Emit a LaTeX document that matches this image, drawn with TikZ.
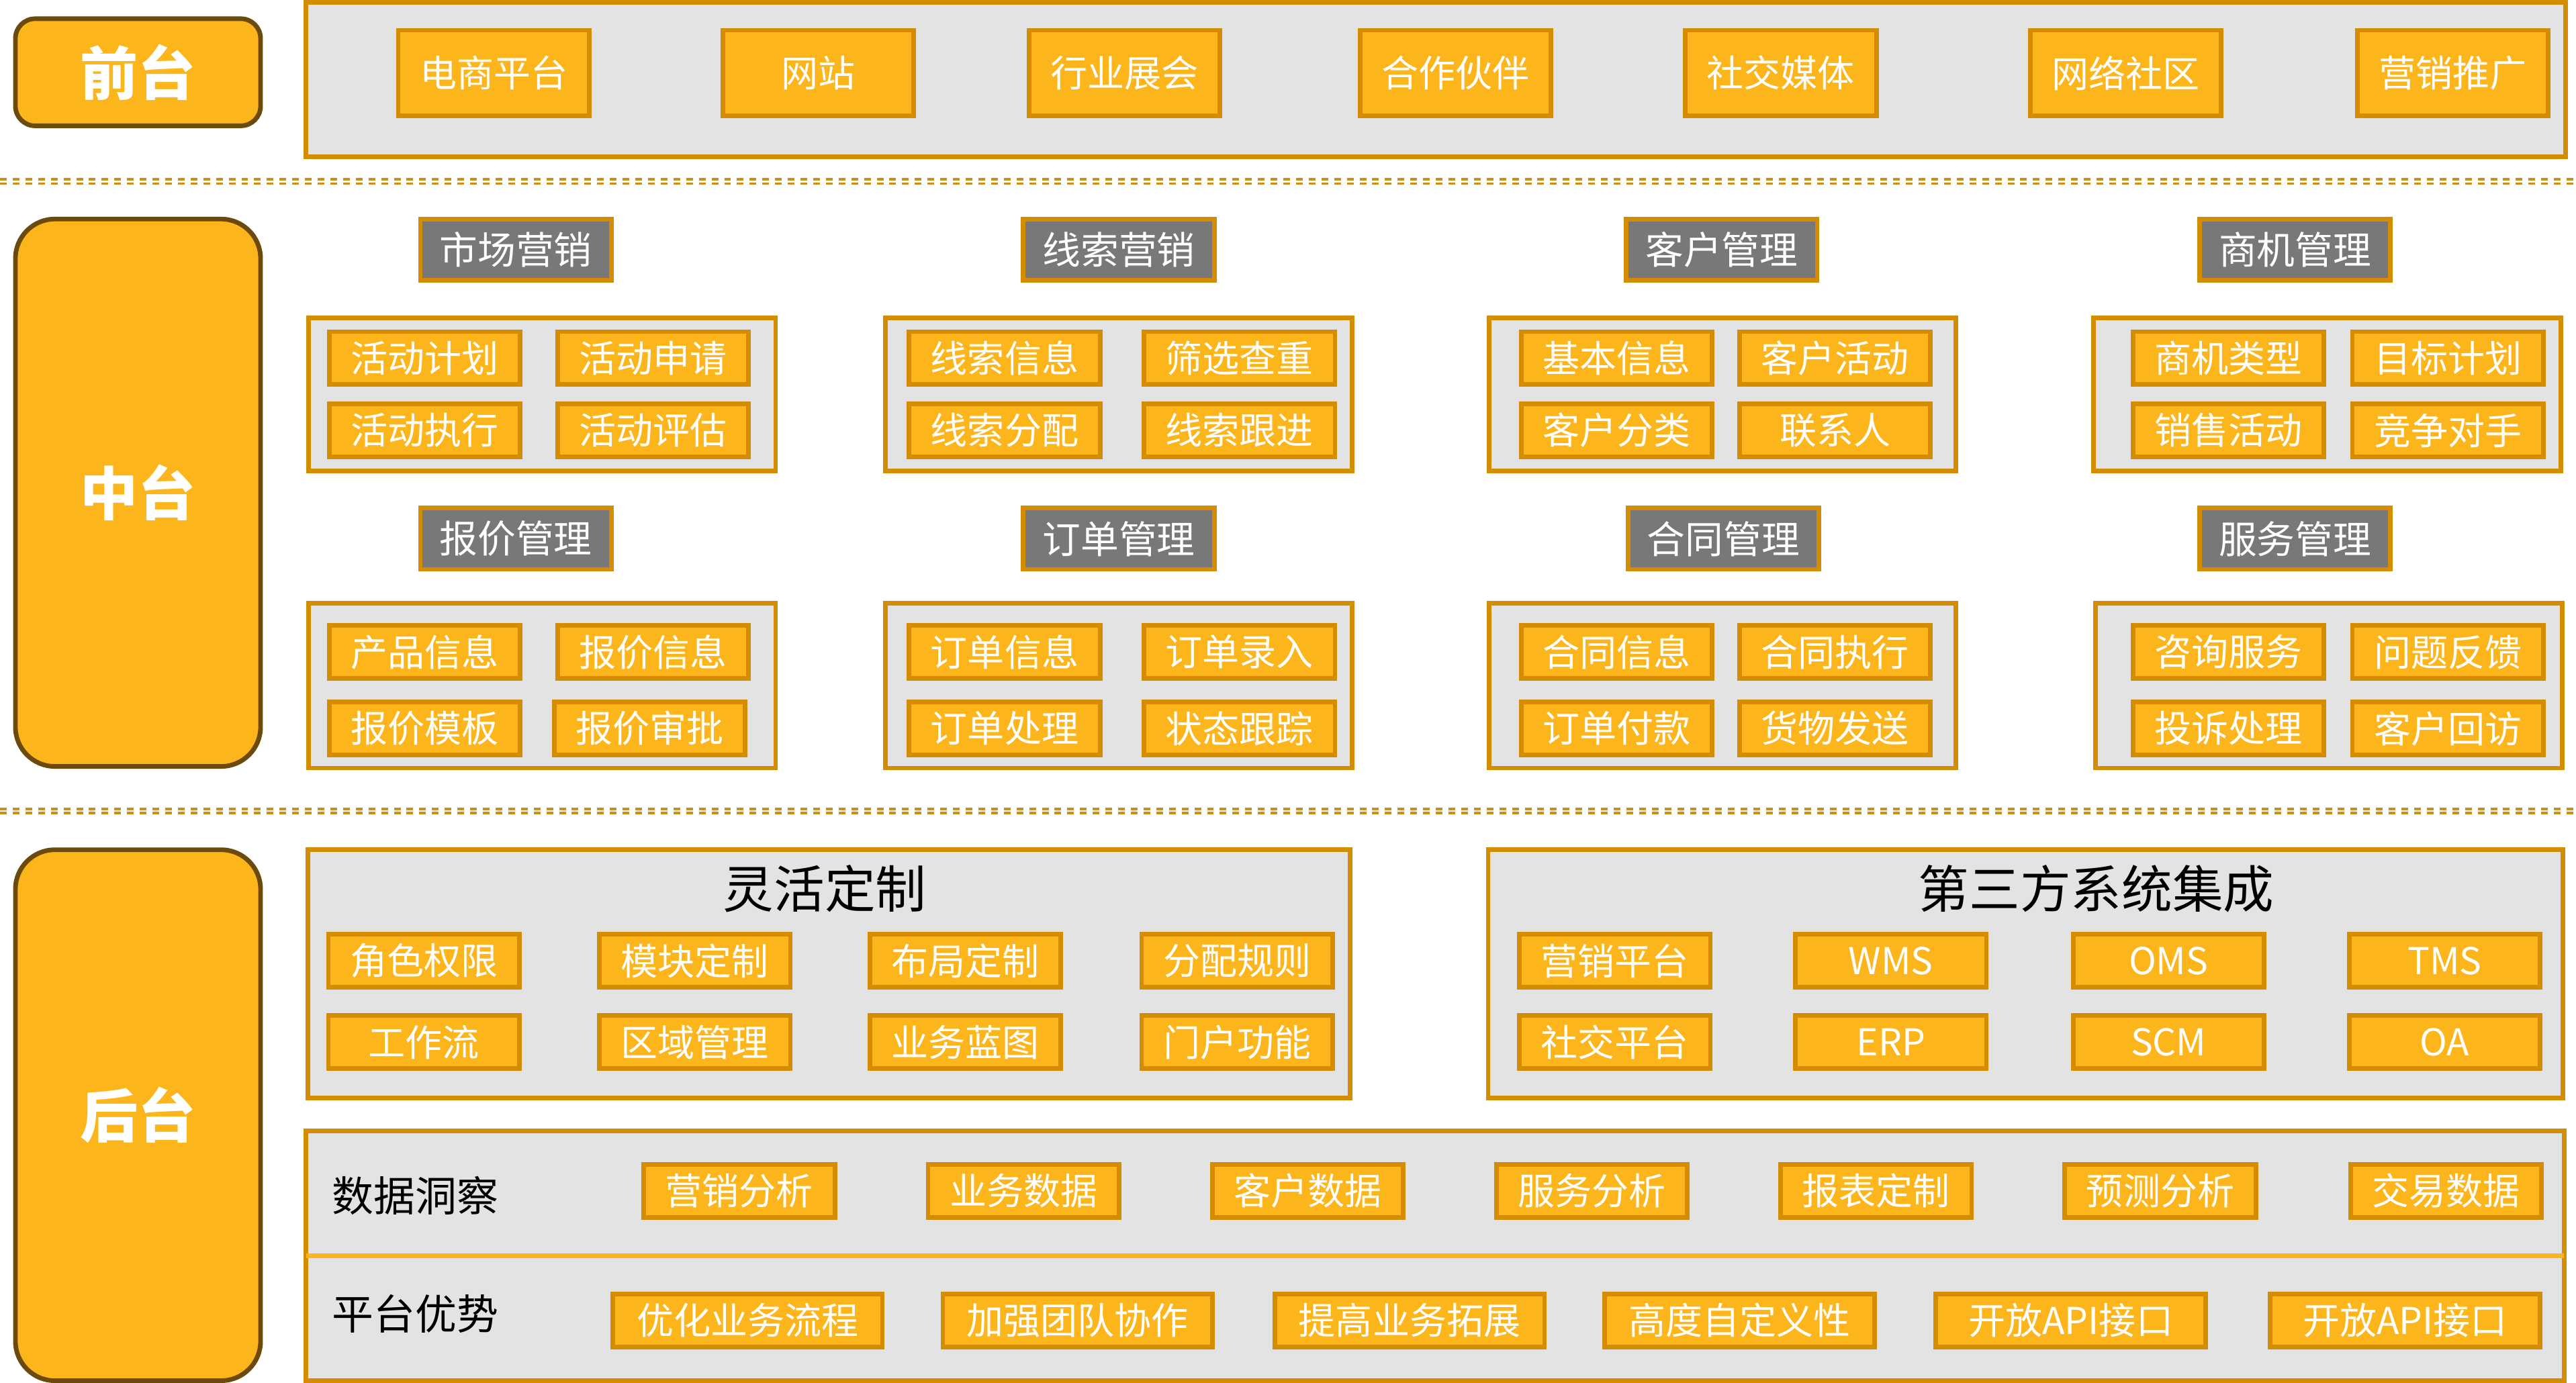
\documentclass[tikz,border=0pt]{standalone}
\usepackage{fontspec}
\setmainfont{Noto Sans CJK SC}
\usetikzlibrary{positioning}
\definecolor{tierfill}{RGB}{253,181,28}
\definecolor{tierline}{RGB}{107,74,11}
\definecolor{itemline}{RGB}{212,141,0}
\definecolor{panelgray}{RGB}{227,227,227}
\definecolor{headgray}{RGB}{120,120,120}
\definecolor{sepcolor}{RGB}{201,142,30}

\begin{document}
\begin{tikzpicture}[
    x=0.025cm, y=-0.025cm,
    tier/.style={rectangle, draw=tierline, fill=tierfill, line width=2pt, minimum width=3.8cm-2pt, text=white, font=\fontsize{25pt}{28pt}\selectfont\bfseries},
    panel/.style={rectangle, draw=itemline, fill=panelgray, line width=2pt, inner sep=0pt},
    grp/.style={panel, minimum width=7.175cm-2pt},
    item/.style={rectangle, draw=itemline, fill=tierfill, line width=2pt, minimum width=2.975cm-2pt, minimum height=0.875cm-2pt, inner sep=0pt, text=white, font=\fontsize{16pt}{18pt}\selectfont},
    frontitem/.style={item, minimum height=1.375cm-2pt},
    wideitem/.style={item, minimum width=4.175cm-2pt},
    head/.style={item, fill=headgray, minimum height=1cm-2pt, font=\fontsize{16.5pt}{18pt}\selectfont},
    title/.style={inner sep=0pt, font=\fontsize{22pt}{26pt}\selectfont},
    rowlabel/.style={anchor=west, inner sep=0pt, font=\fontsize{18pt}{20pt}\selectfont},
    sepline/.style={draw=sepcolor, line width=1.1pt, dash pattern=on 2.9pt off 2.6pt}
]
\useasboundingbox (0,0) rectangle (1568,842);

% Front tier
\node[tier, rounded corners=0.3cm, minimum height=1.7cm-2pt] (front) at (84,44) {前台};
\node[panel, minimum width=34.45cm-2pt, minimum height=2.425cm-2pt] (frontpanel) at (874,48.5) {};
\node[frontitem] (fe1) at (300.5,44.5) {电商平台};
\node[frontitem] (fe2) at (498,44.5) {网站};
\node[frontitem] (fe3) at (684.5,44.5) {行业展会};
\node[frontitem] (fe4) at (886,44.5) {合作伙伴};
\node[frontitem] (fe5) at (1084,44.5) {社交媒体};
\node[frontitem] (fe6) at (1294,44.5) {网络社区};
\node[frontitem] (fe7) at (1493,44.5) {营销推广};

\draw[sepline] (0,109.2) -- (1568,109.2);
\draw[sepline] (0,111.8) -- (1568,111.8);

% Middle tier
\node[tier, rounded corners=0.6cm, minimum height=8.4cm-2pt] (middle) at (84,300) {中台};

% row 1
\node[head] (h1) at (314,152) {市场营销};
\node[head] (h2) at (681,152) {线索营销};
\node[head] (h3) at (1048,152) {客户管理};
\node[head] (h4) at (1397,152) {商机管理};
\node[grp, minimum height=2.4cm-2pt] (g1) at (330,240) {};
\node[grp, minimum height=2.4cm-2pt] (g2) at (681,240) {};
\node[grp, minimum height=2.4cm-2pt] (g3) at (1048.5,240) {};
\node[grp, minimum height=2.4cm-2pt] (g4) at (1416.5,240) {};
\node[item] (a11) at (258.5,218) {活动计划};
\node[item] (a12) at (397.5,218) {活动申请};
\node[item] (a13) at (258.5,262) {活动执行};
\node[item] (a14) at (397.5,262) {活动评估};
\node[item] (a21) at (611.5,218) {线索信息};
\node[item] (a22) at (754.5,218) {筛选查重};
\node[item] (a23) at (611.5,262) {线索分配};
\node[item] (a24) at (754.5,262) {线索跟进};
\node[item] (a31) at (984,218) {基本信息};
\node[item] (a32) at (1117,218) {客户活动};
\node[item] (a33) at (984,262) {客户分类};
\node[item] (a34) at (1117,262) {联系人};
\node[item] (a41) at (1356.5,218) {商机类型};
\node[item] (a42) at (1490,218) {目标计划};
\node[item] (a43) at (1356.5,262) {销售活动};
\node[item] (a44) at (1490,262) {竞争对手};

% row 2
\node[head] (h5) at (314,328) {报价管理};
\node[head] (h6) at (681,328) {订单管理};
\node[head] (h7) at (1049,328) {合同管理};
\node[head] (h8) at (1397,328) {服务管理};
\node[grp, minimum height=2.575cm-2pt] (g5) at (330,417.5) {};
\node[grp, minimum height=2.575cm-2pt] (g6) at (681,417.5) {};
\node[grp, minimum height=2.575cm-2pt] (g7) at (1048.5,417.5) {};
\node[grp, minimum height=2.575cm-2pt] (g8) at (1417.5,417.5) {};
\node[item] (b11) at (258.5,397) {产品信息};
\node[item] (b12) at (397.5,397) {报价信息};
\node[item] (b13) at (258.5,443.5) {报价模板};
\node[item] (b14) at (395.5,443.5) {报价审批};
\node[item] (b21) at (611.5,397) {订单信息};
\node[item] (b22) at (754.5,397) {订单录入};
\node[item] (b23) at (611.5,443.5) {订单处理};
\node[item] (b24) at (754.5,443.5) {状态跟踪};
\node[item] (b31) at (984,397) {合同信息};
\node[item] (b32) at (1117,397) {合同执行};
\node[item] (b33) at (984,443.5) {订单付款};
\node[item] (b34) at (1117,443.5) {货物发送};
\node[item] (b41) at (1356.5,397) {咨询服务};
\node[item] (b42) at (1490,397) {问题反馈};
\node[item] (b43) at (1356.5,443.5) {投诉处理};
\node[item] (b44) at (1490,443.5) {客户回访};

\draw[sepline] (0,492.4) -- (1568,492.4);
\draw[sepline] (0,495) -- (1568,495);

% Back tier
\node[tier, rounded corners=0.6cm, minimum height=8.15cm-2pt] (back) at (84,679) {后台};

% flexible customisation
\node[panel, minimum width=15.925cm-2pt, minimum height=3.85cm-2pt] (flex) at (504.5,593) {};
\node[title] (flextitle) at (502,541) {灵活定制};
\node[item] (c1) at (258,585) {角色权限};
\node[item] (c2) at (423,585) {模块定制};
\node[item] (c3) at (587.5,585) {布局定制};
\node[item] (c4) at (753,585) {分配规则};
\node[item] (c5) at (258,634.5) {工作流};
\node[item] (c6) at (423,634.5) {区域管理};
\node[item] (c7) at (587.5,634.5) {业务蓝图};
\node[item] (c8) at (753,634.5) {门户功能};

% third party systems
\node[panel, minimum width=16.425cm-2pt, minimum height=3.85cm-2pt] (third) at (1233,593) {};
\node[title] (thirdtitle) at (1276,541) {第三方系统集成};
\node[item] (d1) at (983,585) {营销平台};
\node[item] (d2) at (1151,585) {WMS};
\node[item] (d3) at (1320,585) {OMS};
\node[item] (d4) at (1488,585) {TMS};
\node[item] (d5) at (983,634.5) {社交平台};
\node[item] (d6) at (1151,634.5) {ERP};
\node[item] (d7) at (1320,634.5) {SCM};
\node[item] (d8) at (1488,634.5) {OA};

% data insight and platform advantages
\node[panel, minimum width=34.425cm-2pt, minimum height=3.875cm-2pt] (bottom) at (873.5,764.5) {};
\draw[draw=tierfill, line width=2pt, shorten <=1pt, shorten >=1pt] (bottom.west) -- (bottom.east);
\node[rowlabel] (datalabel) at (202,728) {数据洞察};
\node[rowlabel] (advlabel) at (202,800) {平台优势};
\node[item] (e1) at (450,725) {营销分析};
\node[item] (e2) at (623,725) {业务数据};
\node[item] (e3) at (796,725) {客户数据};
\node[item] (e4) at (969,725) {服务分析};
\node[item] (e5) at (1142,725) {报表定制};
\node[item] (e6) at (1315,725) {预测分析};
\node[item] (e7) at (1489,725) {交易数据};
\node[wideitem] (f1) at (455,804) {优化业务流程};
\node[wideitem] (f2) at (656,804) {加强团队协作};
\node[wideitem] (f3) at (858,804) {提高业务拓展};
\node[wideitem] (f4) at (1059,804) {高度自定义性};
\node[wideitem] (f5) at (1260.5,804) {开放API接口};
\node[wideitem] (f6) at (1464,804) {开放API接口};

\end{tikzpicture}
\end{document}
